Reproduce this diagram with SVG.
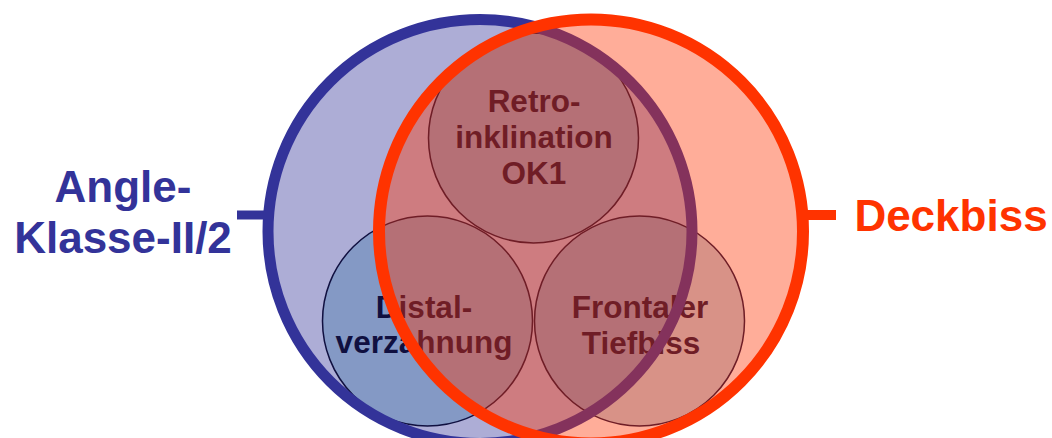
<svg xmlns="http://www.w3.org/2000/svg" width="1052" height="438" viewBox="0 0 1052 438">
  <style>
    text { font-family: "Liberation Sans", Arial, sans-serif; font-weight: bold; text-anchor: middle; }
    .big { font-size: 44px; }
    .small { font-size: 31.5px; fill: #101040; }
    .blue { fill: #333399; }
    .red { fill: #FF3300; }
    .sub { fill: #286EA0; fill-opacity: 0.3; stroke: #101040; stroke-width: 1.5; }
  </style>
  <rect width="1052" height="438" fill="#FFFFFF"/>
  <g id="angle-klasse-fill">
    <circle cx="480" cy="231.5" r="212" fill="#333399" fill-opacity="0.4"/>
  </g>
  <g id="retroinklination">
    <circle class="sub" cx="533.5" cy="138" r="105"/>
    <text class="small" x="534" y="112">Retro-</text>
    <text class="small" x="534" y="148">inklination</text>
    <text class="small" x="534" y="184">OK1</text>
  </g>
  <g id="distalverzahnung">
    <circle class="sub" cx="427.5" cy="321" r="105"/>
    <text class="small" x="424" y="318">Distal-</text>
    <text class="small" x="424" y="353">verzahnung</text>
  </g>
  <g id="frontaler-tiefbiss">
    <circle class="sub" cx="639.5" cy="321" r="105"/>
    <text class="small" x="640" y="318">Frontaler</text>
    <text class="small" x="641" y="354">Tiefbiss</text>
  </g>
  <g id="angle-klasse">
    <circle cx="480" cy="231.5" r="212" fill="none" stroke="#333399" stroke-width="11"/>
    <text class="big blue" x="123" y="202">Angle-</text>
    <text class="big blue" x="123" y="253">Klasse-II/2</text>
  </g>
  <g id="deckbiss">
    <circle cx="591" cy="231.5" r="212" fill="#FF3300" fill-opacity="0.4"/>
    <circle cx="591" cy="231.5" r="212" fill="none" stroke="#FF3300" stroke-width="12"/>
    <text class="big red" x="951" y="231">Deckbiss</text>
  </g>
  <g id="connectors">
    <line x1="237" y1="215" x2="266" y2="215" stroke="#333399" stroke-width="9"/>
    <line x1="805" y1="215" x2="836" y2="215" stroke="#FF3300" stroke-width="10"/>
  </g>
</svg>
